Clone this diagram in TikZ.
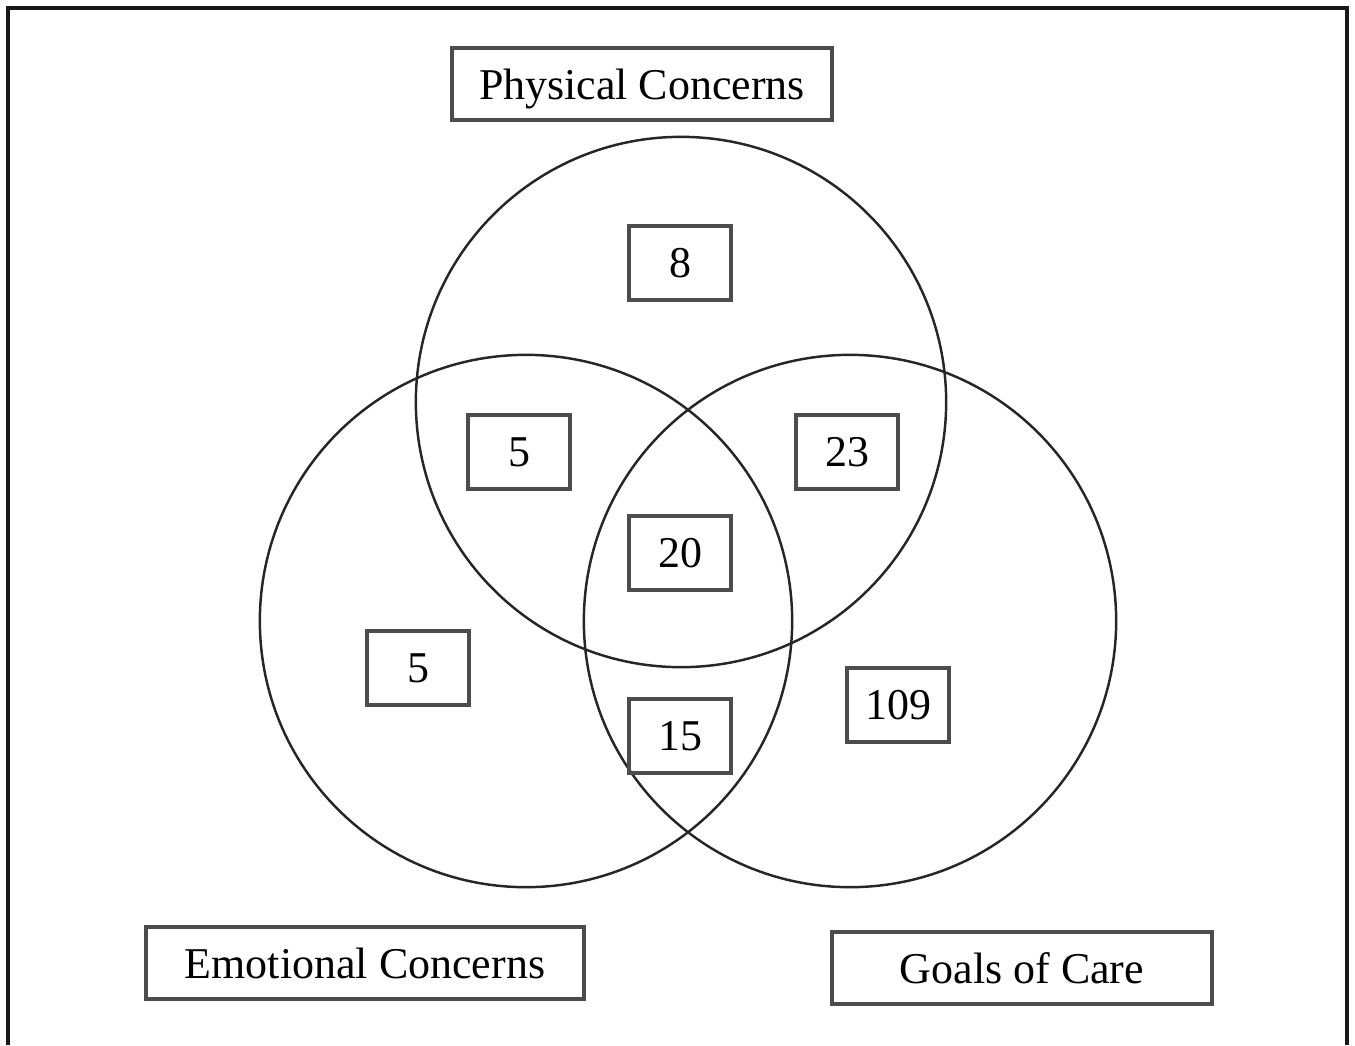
\documentclass[tikz,border=0pt]{standalone}
\usepackage{fontspec}
\setmainfont{Liberation Serif}
\tikzset{
    setring/.style={line width=0.7pt, black!85},
    countbox/.style={draw=black!70, line width=1pt, minimum width=1.02cm, minimum height=0.74cm, inner sep=0pt},
    namebox/.style={draw=black!70, line width=1pt, minimum height=0.72cm, inner sep=0pt, text depth=0pt},
}
\begin{document}
\begin{tikzpicture}[x=0.01cm, y=-0.01cm, font=\fontsize{12.5}{15}\selectfont]
    \useasboundingbox (0,0) rectangle (1355,1045);
    % outer frame, open at the bottom
    \draw[line width=1.3pt, black!90] (8,1045) -- (8,8) -- (1347,8) -- (1347,1045);

    % the three sets
    \draw[setring] (681,402) circle [radius=2.65cm];
    \draw[setring] (526,621) circle [radius=2.66cm];
    \draw[setring] (850,621) circle [radius=2.66cm];

    % set names
    \node[namebox, minimum width=3.80cm] (physical) at (642,84) {Physical Concerns};
    \node[namebox, minimum width=4.38cm] (emotional) at (365,963) {Emotional Concerns};
    \node[namebox, minimum width=3.80cm] (goals) at (1022,968) {Goals of Care};

    % counts
    \node[countbox] (onlyP) at (680,263) {8};
    \node[countbox] (PE) at (519,452) {5};
    \node[countbox] (PG) at (847,452) {23};
    \node[countbox] (PEG) at (680,553) {20};
    \node[countbox] (onlyE) at (418,668) {5};
    \node[countbox] (onlyG) at (898,705) {109};
    \node[countbox] (EG) at (680,736) {15};
\end{tikzpicture}
\end{document}
